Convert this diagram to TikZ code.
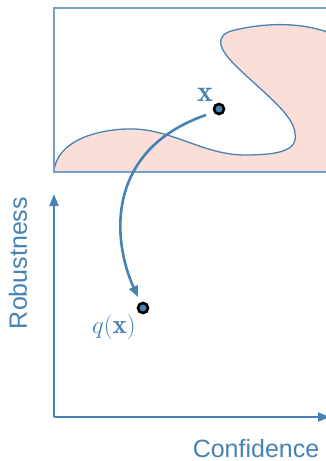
\documentclass[tikz,border=0pt]{standalone}
\usepackage{fontspec}
\newfontfamily\axisfont{Liberation Sans}
\usetikzlibrary{arrows.meta}
\definecolor{sblue}{RGB}{70,130,180}
\definecolor{rblue}{RGB}{120,160,205}
\definecolor{pinkfill}{RGB}{252,222,217}
\tikzset{
  dotnode/.style={circle,draw=black,line width=2.6pt,fill=sblue,inner sep=0pt,minimum size=10pt},
  axislabel/.style={text=sblue,inner sep=0pt,font=\axisfont\fontsize{25}{30}\selectfont},
  axisline/.style={draw=sblue,line width=1.8pt,-{Triangle[length=12pt,width=9pt]}},
  mathlabel/.style={text=sblue,font=\fontsize{27}{32}\selectfont},
  biglabel/.style={text=sblue,font=\fontsize{30}{34}\selectfont}
}
\begin{document}
\begin{tikzpicture}[x=1pt,y=-1pt]
\useasboundingbox (0,0) rectangle (326,461);
\clip (0,0) rectangle (326,461);
% blob
\fill[pinkfill] (54,172) .. controls (56,140) and (100,128) .. (135,129)
  .. controls (175,131) and (205,155) .. (245,155)
  .. controls (280,155) and (298,150) .. (295,134)
  .. controls (295,115) and (260,90) .. (235,65)
  .. controls (220,50) and (212,35) .. (235,30)
  .. controls (260,24) and (300,20) .. (335,35) -- (335,172) -- cycle;
\draw[sblue,line width=1.3pt] (54,172) .. controls (56,140) and (100,128) .. (135,129)
  .. controls (175,131) and (205,155) .. (245,155)
  .. controls (280,155) and (298,150) .. (295,134)
  .. controls (295,115) and (260,90) .. (235,65)
  .. controls (220,50) and (212,35) .. (235,30)
  .. controls (260,24) and (300,20) .. (335,35);
% frame
\draw[rblue,line width=1.3pt] (54,8) rectangle (340,172);
% axes
\coordinate (O) at (54,417);
\coordinate (Ytop) at (54,194);
\coordinate (Xend) at (330,417);
\draw[axisline] (O) -- (Ytop);
\draw[axisline] (O) -- (Xend);
\node[axislabel,rotate=90] (rob) at (18,263) {Robustness};
\node[axislabel] (conf) at (256,449) {Confidence};
% points
\node[dotnode] (x) at (219,109) {};
\node[biglabel] (xl) at (205,95) {$\mathbf{x}$};
\node[dotnode] (q) at (143,308) {};
\node[mathlabel] (ql) at (114,327) {$q(\mathbf{x})$};
\coordinate (start) at (206,115);
\draw[sblue,line width=2.6pt,-{Triangle[length=11pt,width=9pt]}] (start) .. controls (105,150) and (112,240) .. ([shift={(-5,-11)}]q.center);
\end{tikzpicture}
\end{document}
